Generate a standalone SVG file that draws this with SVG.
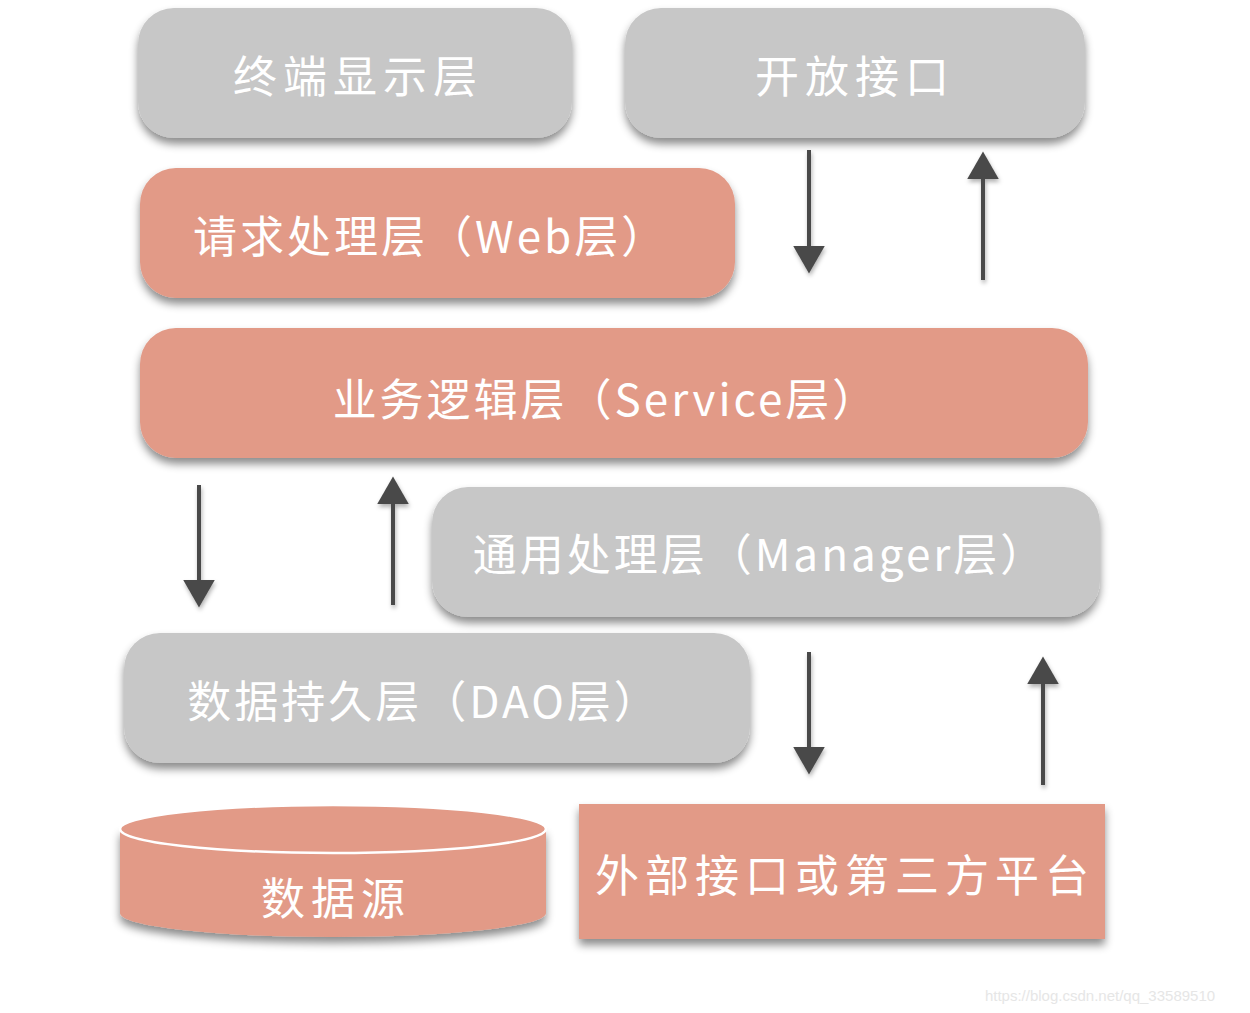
<svg xmlns="http://www.w3.org/2000/svg" width="1250" height="1013" viewBox="0 0 1250 1013">
<defs>
<filter id="sh" x="-10%" y="-20%" width="120%" height="150%">
<feDropShadow dx="0" dy="6" stdDeviation="4" flood-color="#000" flood-opacity="0.45"/>
</filter>
<filter id="ash" x="-100%" y="-10%" width="300%" height="130%">
<feDropShadow dx="1" dy="3" stdDeviation="2" flood-color="#000" flood-opacity="0.3"/>
</filter>
<marker id="ah" viewBox="0 0 10 10" refX="8" refY="5" markerWidth="7" markerHeight="8" markerUnits="strokeWidth" orient="auto" preserveAspectRatio="none">
<path d="M0,0 L10,5 L0,10 Z" fill="#4a4a4a"/>
</marker>
<style>
.gray{fill:#c7c7c7;}
.red{fill:#e29a87;}
.t{font-family:"Noto Sans CJK SC","Noto Sans",sans-serif;fill:#fff;font-size:44px;dominant-baseline:central;letter-spacing:3px;}
.w{letter-spacing:6px;}
.c{text-anchor:middle;}
.arr{stroke:#4a4a4a;stroke-width:4;fill:none;marker-end:url(#ah);}
</style>
</defs>
<rect width="1250" height="1013" fill="#fff"/>
<g id="terminal">
<rect class="gray" x="138" y="8" width="434" height="130" rx="36" filter="url(#sh)"/>
<text class="t w c" x="358" y="74">终端显示层</text>
</g>
<g id="open-api">
<rect class="gray" x="625" y="8" width="460" height="130" rx="36" filter="url(#sh)"/>
<text class="t w c" x="855" y="74">开放接口</text>
</g>
<g id="web">
<rect class="red" x="140" y="168" width="595" height="130" rx="36" filter="url(#sh)"/>
<text class="t" x="193" y="234">请求处理层（Web层）</text>
</g>
<g id="service">
<rect class="red" x="140" y="328" width="948" height="130" rx="36" filter="url(#sh)"/>
<text class="t c" x="606" y="397">业务逻辑层（Service层）</text>
</g>
<g id="manager">
<rect class="gray" x="432" y="487" width="668" height="130" rx="36" filter="url(#sh)"/>
<text class="t c" x="760" y="552">通用处理层（Manager层）</text>
</g>
<g id="dao">
<rect class="gray" x="124" y="633" width="626" height="130" rx="36" filter="url(#sh)"/>
<text class="t c" x="424" y="699">数据持久层（DAO层）</text>
</g>
<g id="datasource">
<path class="red" d="M120,829 L120,913 A213,24 0 0 0 546,913 L546,829 Z" filter="url(#sh)"/>
<ellipse class="red" cx="333" cy="829" rx="213" ry="24" stroke="#fff" stroke-width="2.5"/>
<text class="t w c" x="336" y="896">数据源</text>
</g>
<g id="external">
<rect class="red" x="579" y="804" width="526" height="135" filter="url(#sh)"/>
<text class="t w c" x="845" y="873">外部接口或第三方平台</text>
</g>
<g id="connectors" filter="url(#ash)">
<line class="arr" x1="809" y1="150" x2="809" y2="268"/>
<line class="arr" x1="983" y1="280" x2="983" y2="157"/>
<line class="arr" x1="199" y1="485" x2="199" y2="602"/>
<line class="arr" x1="393" y1="605" x2="393" y2="482"/>
<line class="arr" x1="809" y1="652" x2="809" y2="769"/>
<line class="arr" x1="1043" y1="785" x2="1043" y2="662"/>
</g>
<text x="1100" y="1001" text-anchor="middle" font-family="Liberation Sans,sans-serif" font-size="15" fill="#e6e6e6">https://blog.csdn.net/qq_33589510</text>
</svg>
